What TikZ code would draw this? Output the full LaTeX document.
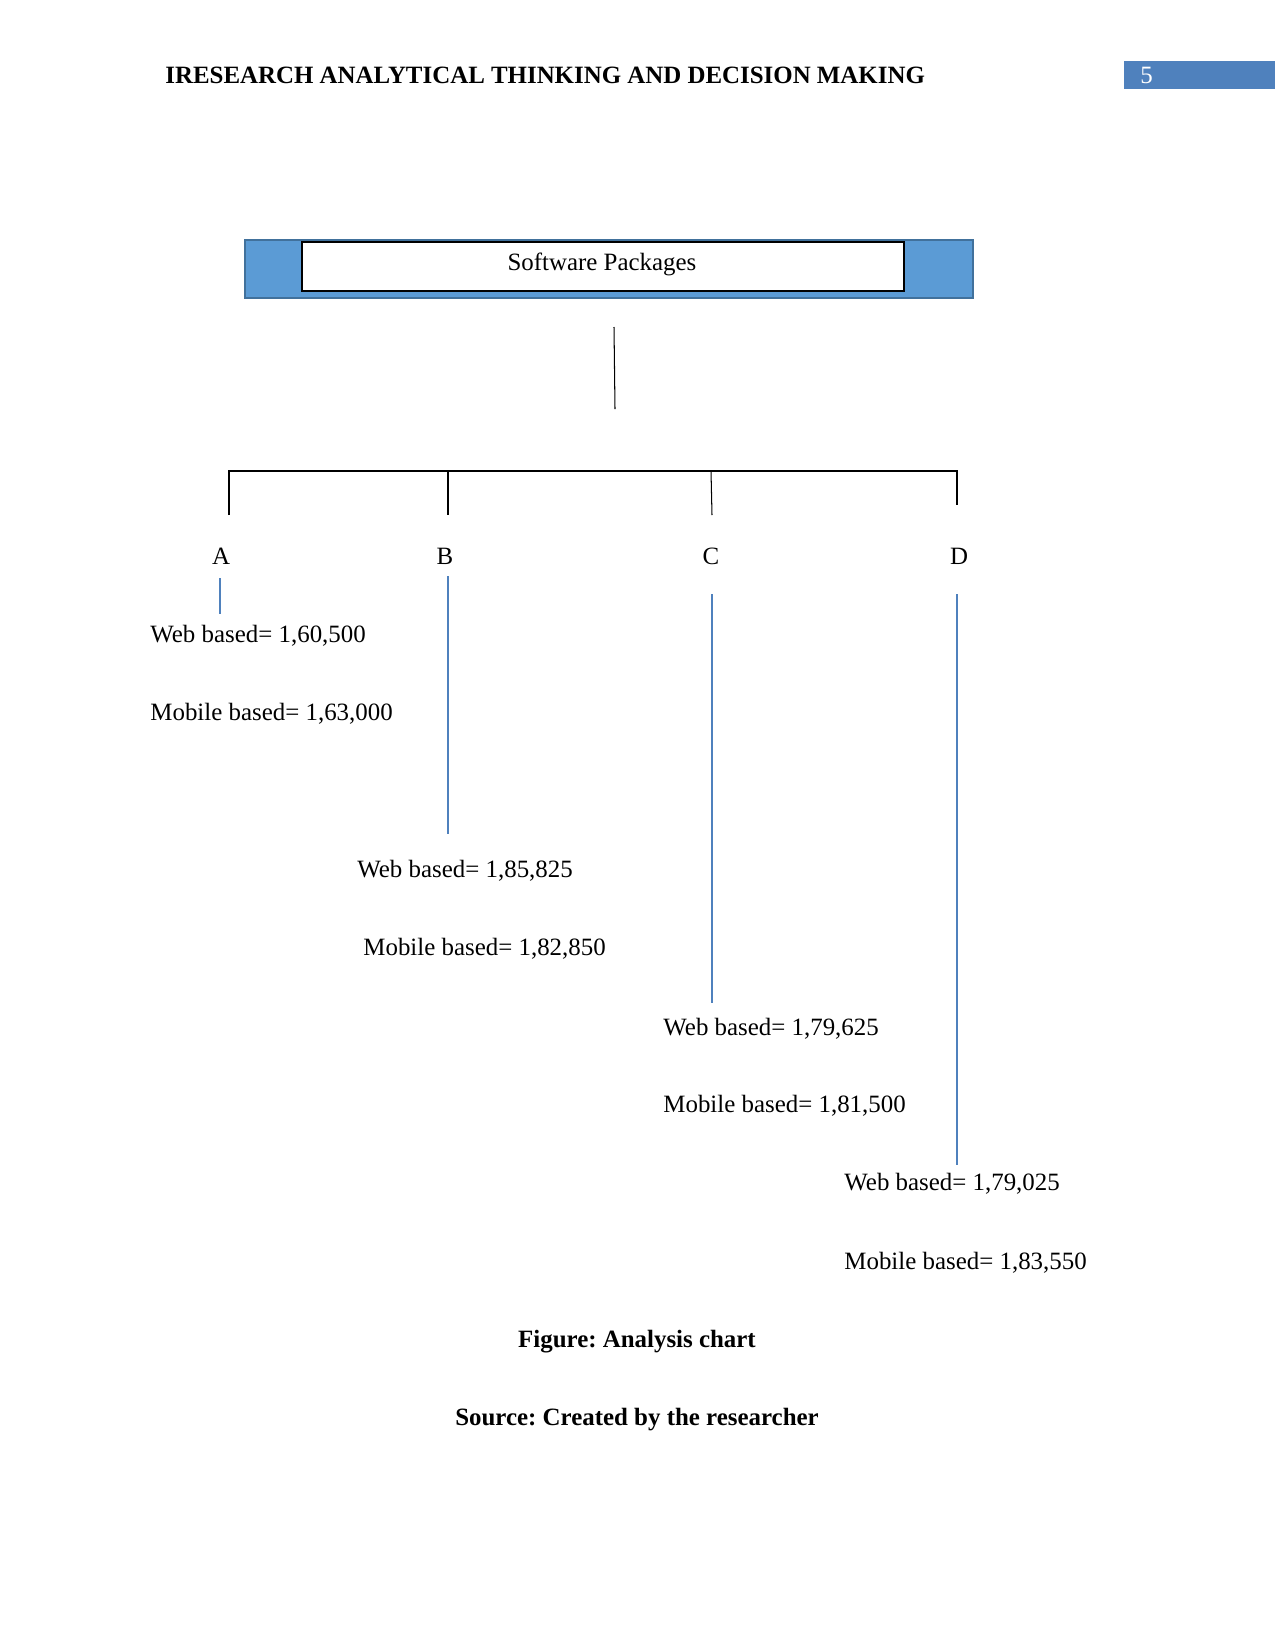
\documentclass[tikz,border=0pt]{standalone}
\usepackage{fontspec}
\setmainfont{Liberation Serif}
\frenchspacing
\definecolor{hdrblue}{HTML}{4F81BD}
\definecolor{boxblue}{HTML}{5B9BD5}
\definecolor{boxedge}{HTML}{41719C}
\begin{document}
\begin{tikzpicture}[x=0.16933mm,y=-0.16933mm,
  lbl/.style={anchor=base west,inner sep=0pt,font=\fontsize{12}{14}\selectfont},
  letter/.style={anchor=base,inner sep=0pt,font=\fontsize{12}{14}\selectfont},
  blk/.style={draw=black,line width=0.5pt},
  bl/.style={draw=hdrblue,line width=0.5pt}]
\useasboundingbox[fill=white] (0,0) rectangle (1275,1650);
% header
\node[anchor=base west,inner sep=0pt,font=\fontsize{12}{14}\selectfont\bfseries] (hdr) at (165,83) {IRESEARCH ANALYTICAL THINKING AND DECISION MAKING};
\node[fill=hdrblue,minimum width=25.57mm,minimum height=4.74mm,inner sep=0pt,anchor=north west] (pg) at (1124,61) {};
\node[anchor=base west,inner sep=0pt,text=white,font=\fontsize{12}{14}\selectfont] (pgnum) at (1140,83) {5};
% Software packages box
\node[fill=boxblue,draw=boxedge,line width=1pt,anchor=north west,minimum width=123.27mm,minimum height=9.82mm,inner sep=0pt] (outer) at (244,239) {};
\node[fill=white,draw=black,line width=1pt,anchor=north west,minimum width=101.94mm,minimum height=8.30mm,inner sep=0pt] (inner) at (301,241) {};
\node[letter] (sp) at (602,270) {Software Packages};
% tree lines
\coordinate (t1) at (614,327);
\coordinate (t2) at (615,409);
\draw[blk] (t1) -- (t2);
\coordinate (hA) at (229,471);
\coordinate (hB) at (448,471);
\coordinate (hC) at (711,471);
\coordinate (hD) at (957,471);
\coordinate (dA) at (229,515);
\coordinate (dB) at (448,515);
\coordinate (dC) at (712,515);
\coordinate (dD) at (957,505);
\draw[blk] (dA) -- (hA) -- (hD) -- (dD);
\draw[blk] (hB) -- (dB);
\draw[blk] (hC) -- (dC);
% letters
\node[letter] (A) at (221,564) {A};
\node[letter] (B) at (445,564) {B};
\node[letter] (C) at (711,564) {C};
\node[letter] (D) at (959,564) {D};
% values
\node[lbl] (wa) at (150,642) {Web based= 1,60,500};
\node[lbl] (ma) at (150,720) {Mobile based= 1,63,000};
\node[lbl] (wb) at (357,877) {Web based= 1,85,825};
\node[lbl] (mb) at (363,955) {Mobile based= 1,82,850};
\node[lbl] (wc) at (663,1035) {Web based= 1,79,625};
\node[lbl] (mc) at (663,1112) {Mobile based= 1,81,500};
\node[lbl] (wd) at (844,1190) {Web based= 1,79,025};
\node[lbl] (md) at (844,1269) {Mobile based= 1,83,550};
% blue connectors
\coordinate (a1) at (220,578); \coordinate (a2) at (220,614);
\coordinate (b1) at (448,576); \coordinate (b2) at (448,834);
\coordinate (c1) at (712,594); \coordinate (c2) at (712,1003);
\coordinate (d1) at (957,594); \coordinate (d2) at (957,1165);
\draw[bl] (a1) -- (a2);
\draw[bl] (b1) -- (b2);
\draw[bl] (c1) -- (c2);
\draw[bl] (d1) -- (d2);
% captions
\node[anchor=base,inner sep=0pt,font=\fontsize{12}{14}\selectfont\bfseries] (fig) at (637,1347) {Figure: Analysis chart};
\node[anchor=base,inner sep=0pt,font=\fontsize{12}{14}\selectfont\bfseries] (src) at (637,1425) {Source: Created by the researcher};
\end{tikzpicture}
\end{document}
